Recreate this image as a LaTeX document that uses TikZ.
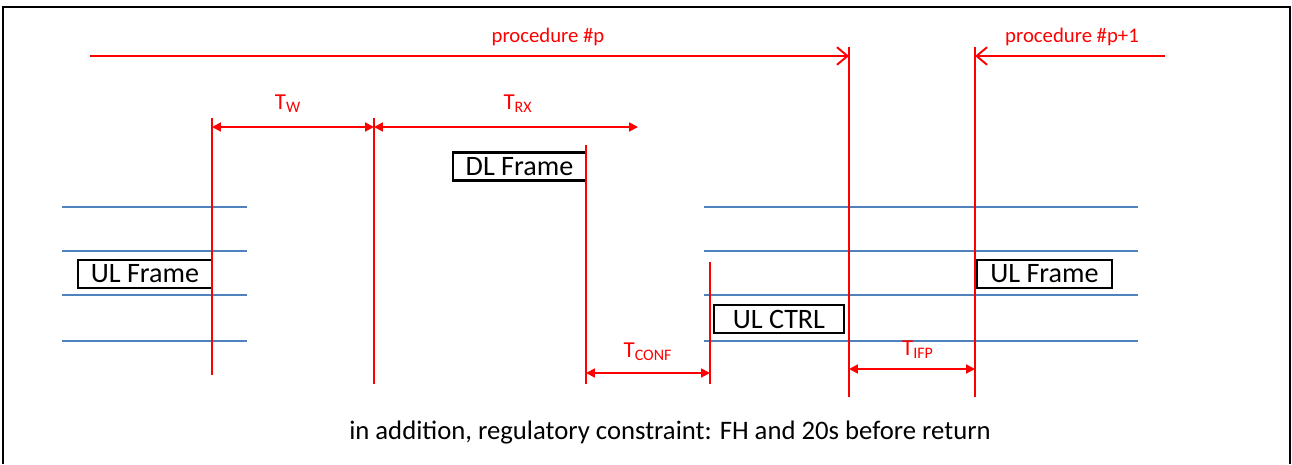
\documentclass[tikz,border=0pt]{standalone}
\usepackage{fontspec}
\setmainfont{Carlito}
\usetikzlibrary{arrows.meta}

\definecolor{laneblue}{RGB}{79,129,189}

\begin{document}
\begin{tikzpicture}[x=0.02cm, y=-0.02cm,
    marker/.style={red, line width=1.1pt},
    lane/.style={laneblue, line width=1.1pt},
    span/.style={red, line width=1.1pt, {Triangle[length=5pt,width=5pt]}-{Triangle[length=5pt,width=5pt]}},
    proc/.style={red, line width=1.1pt, -{Straight Barb[length=6pt,width=10pt]}},
    tlabel/.style={red, font=\fontsize{13}{15}\selectfont},
    plabel/.style={red, font=\fontsize{11.8}{14}\selectfont},
    framebox/.style={draw, line width=1.2pt, fill=white, minimum height=0.56cm,
      inner sep=0pt, font=\fontsize{16}{18}\selectfont}]
  \useasboundingbox (0,0) rectangle (1292,464);
  \draw[line width=1.6pt] (3,464) -- (3,7) -- (1290,7) -- (1290,464);

  % blue lanes
  \foreach \y in {207,251,295,341} {
    \draw[lane] (62,\y) -- (247,\y);
    \draw[lane] (704,\y) -- (1138,\y);
  }

  % frames
  \node[framebox, minimum width=2.68cm] (ulA) at (145,274) {UL Frame};
  \node[framebox, minimum width=2.66cm] (dl) at (519.5,166.5) {DL Frame};
  \node[framebox, minimum width=2.60cm] (ctrl) at (779,319) {UL CTRL};
  \node[framebox, minimum width=2.70cm] (ulB) at (1044.5,274) {UL Frame};

  % time markers
  \coordinate (twT) at (212,118);  \coordinate (twB) at (212,375);
  \coordinate (rxT) at (374,118);  \coordinate (rxB) at (374,384);
  \coordinate (dlT) at (586,145);  \coordinate (dlB) at (586,384);
  \coordinate (cfT) at (710,262);  \coordinate (cfB) at (710,384);
  \coordinate (peT) at (849,47);   \coordinate (peB) at (849,397);
  \coordinate (pnT) at (975,47);   \coordinate (pnB) at (975,397);
  \foreach \m in {tw,rx,dl,cf,pe,pn}
    \draw[marker] (\m T) -- (\m B);

  % procedures
  \coordinate (pS) at (90,56);
  \coordinate (pnS) at (1165,56);
  \draw[proc] (pS) -- (pS -| peT);
  \draw[proc] (pnS) -- (pnS -| pnT);
  \node[plabel] (procP) at (548,37) {procedure \#p};
  \node[plabel] (procN) at (1072,37) {procedure \#p+1};

  % durations
  \coordinate (tw) at (212,127);
  \draw[span] (tw) -- (tw -| rxT);
  \draw[span] (tw -| rxT) -- (638,127);
  \coordinate (cf) at (586,373);
  \draw[span] (cf) -- (cf -| cfT);
  \coordinate (ifp) at (849,369);
  \draw[span] (ifp) -- (ifp -| pnT);
  \node[tlabel] (lW) at (288,104) {T\textsubscript{W}};
  \node[tlabel] (lRX) at (518,104) {T\textsubscript{RX}};
  \node[tlabel] (lCONF) at (648,352) {T\textsubscript{CONF}};
  \node[tlabel] (lIFP) at (918,350) {T\textsubscript{IFP}};

  \node[font=\fontsize{15.2}{18}\selectfont] (note) at (670,433)
    {in addition, regulatory constraint: FH and 20s before return};
\end{tikzpicture}
\end{document}
